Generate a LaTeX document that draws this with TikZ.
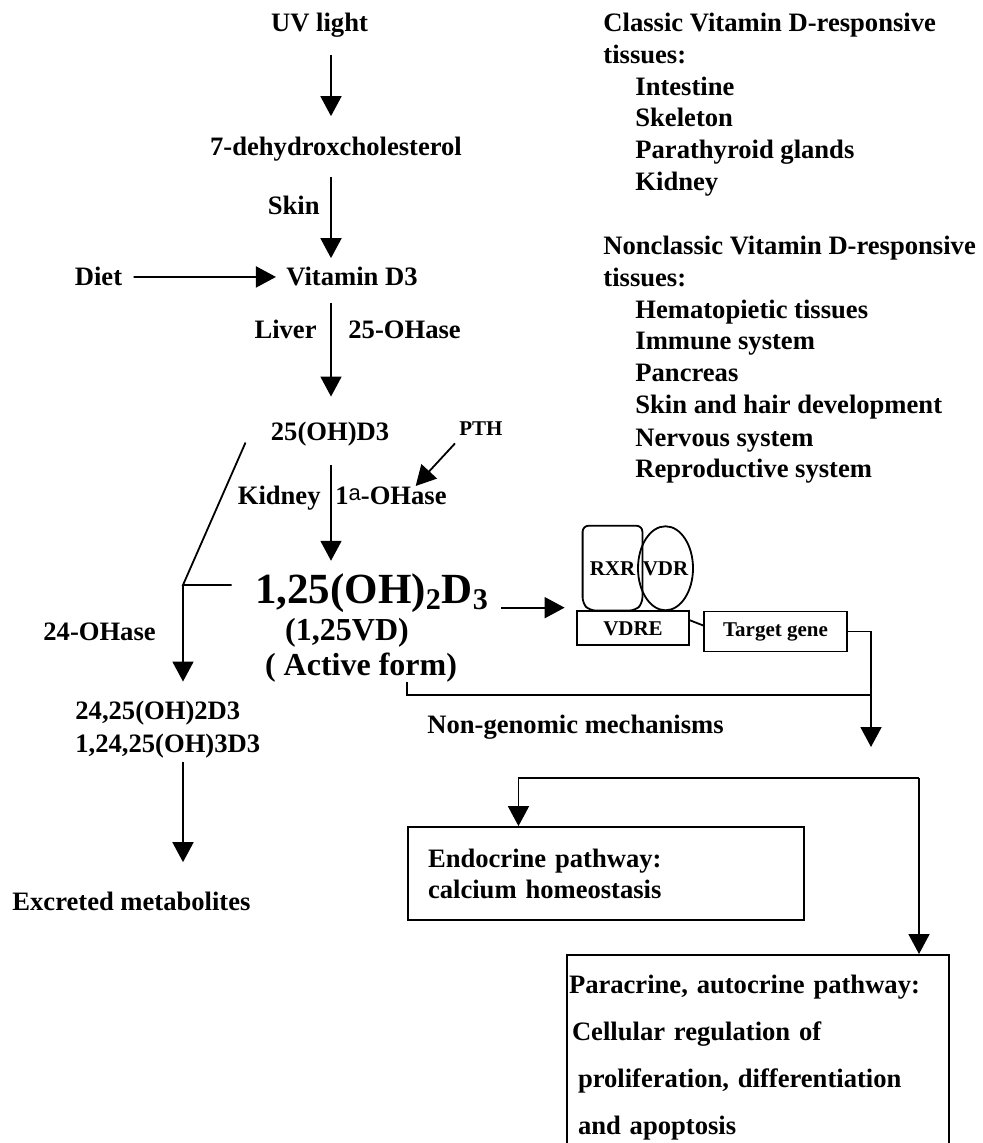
\documentclass[tikz,border=0pt]{standalone}
\usepackage{fontspec}
\setmainfont{Liberation Serif}
\newfontfamily\alphafont{Liberation Sans}
\usetikzlibrary{calc,arrows.meta,positioning}

\begin{document}
\begin{tikzpicture}[x=0.5pt,y=-0.5pt,
  txt/.style={font=\bfseries\fontsize{13.3}{16}\selectfont,inner sep=0pt,anchor=base},
  small/.style={txt,font=\bfseries\fontsize{10.5}{12}\selectfont},
  big/.style={txt,font=\bfseries\fontsize{16}{18}\selectfont},
  flow/.style={-{Triangle[width=10.5pt,length=10pt]},line width=0.9pt},
  wire/.style={line width=0.9pt},
  box/.style={draw,line width=0.9pt}]

  \useasboundingbox (0,0) rectangle (982,1143);
  \clip (0,0) rectangle (982,1143);

  \coordinate (spine) at (331,0);

  \node[txt] (uv) at (319.5,32) {UV light};
  \node[txt] (dhc) at (336,156) {7-dehydroxcholesterol};
  \node[txt,anchor=base east] (skin) at (320,215) {Skin};
  \node[txt] (vitd) at (352,286) {Vitamin D3};
  \node[txt] (diet) at (98.5,286) {Diet};
  \node[txt,anchor=base east] (liver) at (317,339) {Liver};
  \node[txt,anchor=base west] (oh25) at (348,339) {25-OHase};
  \node[txt] (ohd) at (330,441) {25(OH)D3};
  \node[small,anchor=base west] (pth) at (459,436) {PTH};
  \node[txt,anchor=base east] (kid) at (321,504) {Kidney};
  \node[txt,anchor=base west] (oh1a) at (335,504) {1\raisebox{2pt}{\alphafont\mdseries\fontsize{11}{11}\selectfont a}-OHase};
  \node[txt,font=\bfseries\fontsize{21.5}{24}\selectfont] (act) at (372,603) {1,25(OH)\textsubscript{2}D\textsubscript{3}};
  \node[big] (vd) at (347,640) {(1,25VD)};
  \node[big] (actf) at (361,675) {( Active form)};

  \node[txt,anchor=base west] (oh24) at (43,640) {24-OHase};
  \node[txt,anchor=base west] (met1) at (75,719) {24,25(OH)2D3};
  \node[txt,anchor=base west] (met2) at (75,752) {1,24,25(OH)3D3};
  \node[txt,anchor=base west] (excr) at (12,910) {Excreted metabolites};

  \node[txt,anchor=base west] (cls) at (603,32) {Classic Vitamin D-responsive};
  \node[txt,anchor=base west] (clst) at (603,64) {tissues:};
  \node[txt,anchor=base west] (ints) at (635,95.5) {Intestine};
  \node[txt,anchor=base west] (skel) at (635,127) {Skeleton};
  \node[txt,anchor=base west] (ptg) at (635,159) {Parathyroid glands};
  \node[txt,anchor=base west] (kdn) at (635,191) {Kidney};
  \node[txt,anchor=base west] (ncls) at (603,255) {Nonclassic Vitamin D-responsive};
  \node[txt,anchor=base west] (nclst) at (603,287) {tissues:};
  \node[txt,anchor=base west] (hema) at (635,318.5) {Hematopietic tissues};
  \node[txt,anchor=base west] (immu) at (635,350) {Immune system};
  \node[txt,anchor=base west] (panc) at (635,382) {Pancreas};
  \node[txt,anchor=base west] (hair) at (635,414) {Skin and hair development};
  \node[txt,anchor=base west] (nerv) at (635,446) {Nervous system};
  \node[txt,anchor=base west] (repr) at (635,477) {Reproductive system};

  \node[small,minimum width=29.5pt,minimum height=42pt] (rxr) at (612.5,575) {RXR};
  \node[small] (vdr) at (665.5,575) {VDR};
  \node[small,box,minimum width=56pt,minimum height=17pt] (vdre) at (633,635) {VDRE};
  \node[small,box,minimum width=71.5pt,minimum height=20pt] (gene) at (775.5,636) {Target gene};
  \node[txt,anchor=base west] (nongen) at (427,733) {Non-genomic mechanisms};

  \node[box,font=\bfseries\fontsize{13.3}{15.5}\selectfont,text width=178pt,inner xsep=10pt,inner ysep=0pt,minimum height=46.5pt,align=left] (endo) at (606,873.5) {Endocrine pathway:\\calcium homeostasis};
  \node[box,anchor=north,font=\bfseries\fontsize{13.3}{23.5}\selectfont,text width=189pt,inner xsep=1pt,inner ysep=10pt,align=left] (para) at (758,954) {Paracrine, autocrine pathway:\\\hspace*{1.5pt}Cellular regulation of\\\hspace*{4.5pt}proliferation, differentiation\\\hspace*{4.5pt}and apoptosis};

  \draw[wire,rounded corners=3pt] ([yshift=3.5pt]rxr.south west) -- (rxr.north west) -- (rxr.north east) -- ([yshift=3.5pt]rxr.south east) -- ([xshift=-3.5pt]rxr.south east) -- ([xshift=3.5pt]rxr.south west) -- cycle;
  \draw[wire] (vdr) ellipse [x radius=13.75pt,y radius=21pt];

  \draw[flow,shorten <=8.5pt,shorten >=10.5pt] (uv.south -| spine) -- (dhc.north -| spine);
  \draw[flow,shorten <=7.5pt,shorten >=4.5pt] (dhc.south -| spine) -- (vitd.north -| spine);
  \draw[flow,shorten <=5.5pt,shorten >=5pt] (diet) -- (vitd);
  \draw[flow,shorten <=8pt,shorten >=12.8pt] (vitd.south -| spine) -- (ohd.north -| spine);
  \draw[flow,shorten <=9pt,shorten >=6pt] (ohd.south -| spine) -- (act.north -| spine);
  \draw[flow] ([shift={(-4,7)}]pth.south west) -- ($(oh1a.north west)!.72!(oh1a.north east)$);

  \coordinate (br) at (183,585);
  \draw[wire] ([shift={(-25,8)}]ohd.west) -- (br) -- ([xshift=-11.5pt]act.west |- br);
  \draw[flow,shorten >=9.3pt] (br) -- (met1.north -| br);
  \draw[flow,shorten <=2pt,shorten >=14.5pt] (met2.south -| br) -- (excr.north -| br);

  \draw[flow] ([shift={(12,15)}]act.east) coordinate (a0) -- ([xshift=-9pt]rxr.west |- a0);
  \draw[wire] ([yshift=4pt]vdre.east) -- ([yshift=3pt]gene.west);

  \coordinate (split) at (871,747);
  \coordinate (join) at (871,695);
  \draw[flow] (gene.east) -| (split);
  \draw[wire] ($(actf.south west)!.74!(actf.south east)$) |- (join);

  \coordinate (fork) at (919,778);
  \draw[flow] (fork) -| ($(endo.north west)!.28!(endo.north east)$);
  \draw[flow] (fork) -- (para.north -| fork);

\end{tikzpicture}
\end{document}
